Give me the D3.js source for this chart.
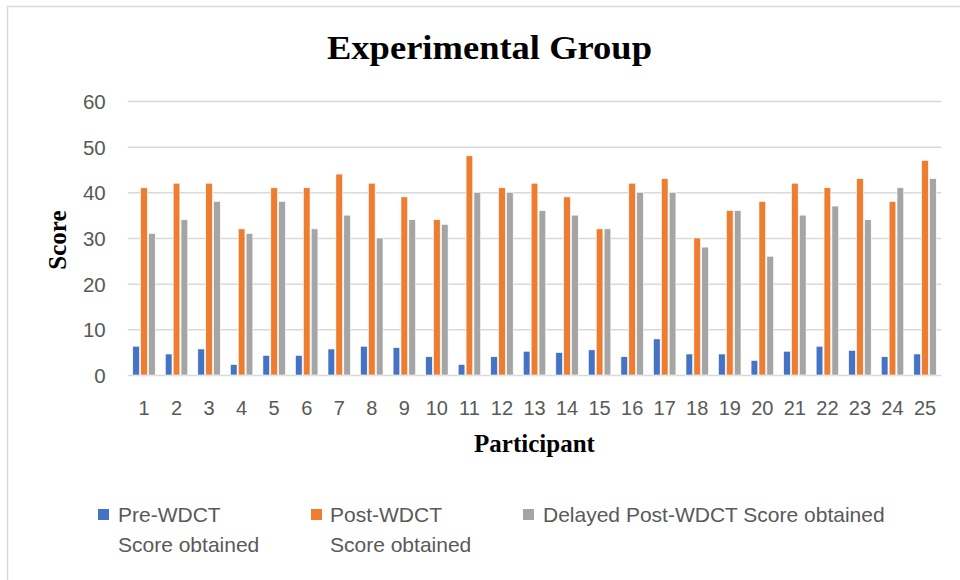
<!DOCTYPE html>
<html>
<head>
<meta charset="utf-8">
<script src="https://cdn.jsdelivr.net/npm/d3@7"></script>
<style>
  html, body { margin: 0; padding: 0; background: #fff; }
  svg { display: block; }
</style>
</head>
<body>
<svg id="chart" width="960" height="580"></svg>
<script>
const categories = ["1","2","3","4","5","6","7","8","9","10","11","12","13","14","15","16","17","18","19","20","21","22","23","24","25"];
const seriesNames = ["Pre-WDCT Score obtained", "Post-WDCT Score obtained", "Delayed Post-WDCT Score obtained"];
const preScores = [6.3, 4.6, 5.7, 2.3, 4.3, 4.3, 5.7, 6.3, 6.0, 4.0, 2.3, 4.0, 5.2, 4.9, 5.5, 4.0, 7.9, 4.6, 4.6, 3.2, 5.2, 6.3, 5.4, 4.0, 4.6];
const postScores = [41, 42, 42, 32, 41, 41, 44, 42, 39, 34, 48, 41, 42, 39, 32, 42, 43, 30, 36, 38, 42, 41, 43, 38, 47];
const delayedScores = [31, 34, 38, 31, 38, 32, 35, 30, 34, 33, 40, 40, 36, 35, 32, 40, 40, 28, 36, 26, 35, 37, 34, 41, 43];
const yTicks = [0, 10, 20, 30, 40, 50, 60];
const colors = ["#4472C4", "#ED7D31", "#A5A5A5"];

const allSeries = [preScores, postScores, delayedScores];
const svg = d3.select("#chart");

// chart border
svg.append("rect").attr("x", 7.5).attr("y", 6.5).attr("width", 1000).attr("height", 1000)
  .attr("fill", "none").attr("stroke", "#d9d9d9").attr("stroke-width", 1.5);

const plotLeft = 127.7, plotRight = 941.3, plotTop = 101, plotBottom = 375;

const y = d3.scaleLinear().domain([0, 60]).range([plotBottom, plotTop]);
const x0 = d3.scaleBand().domain(categories).range([plotLeft, plotRight]).paddingInner(0.31).paddingOuter(0.155);
const x1 = d3.scaleBand().domain(d3.range(3)).range([0, x0.bandwidth()]).paddingInner(0.15);

// gridlines
const yAxis = d3.axisLeft(y).tickValues(yTicks).tickSize(-(plotRight - plotLeft)).tickPadding(22);
const gy = svg.append("g").attr("transform", `translate(${plotLeft},0)`).call(yAxis);
gy.select(".domain").remove();
gy.selectAll(".tick line").attr("stroke", "#d9d9d9").attr("stroke-width", 1.5);
gy.selectAll(".tick text").attr("fill", "#595959").attr("font-family", "Liberation Sans, Arial, sans-serif")
  .attr("font-size", 20.5).attr("dy", "0.36em");

// bars
const groups = svg.append("g").selectAll("g").data(categories).join("g")
  .attr("transform", d => `translate(${x0(d)},0)`);
groups.selectAll("rect").data((d, i) => allSeries.map((s, k) => ({k, v: s[i]}))).join("rect")
  .attr("x", d => x1(d.k))
  .attr("width", x1.bandwidth())
  .attr("y", d => y(d.v))
  .attr("height", d => y(0) - y(d.v))
  .attr("fill", d => colors[d.k])
  .attr("stroke", "#fff").attr("stroke-width", 0.6);

// x axis labels
const xAxis = d3.axisBottom(x0).tickSize(0).tickPadding(0);
const gx = svg.append("g").attr("transform", `translate(0,${plotBottom})`).call(xAxis);
gx.select(".domain").remove();
gx.selectAll(".tick text").attr("fill", "#595959").attr("font-family", "Liberation Sans, Arial, sans-serif")
  .attr("font-size", 20).attr("y", 40).attr("dy", 0);

// titles
svg.append("text").attr("x", 489.5).attr("y", 59).attr("text-anchor", "middle")
  .attr("font-family", "Liberation Serif, Times New Roman, serif").attr("font-weight", "bold")
  .attr("font-size", 33).attr("textLength", 325).attr("lengthAdjust", "spacingAndGlyphs")
  .text("Experimental Group");
svg.append("text").attr("x", 534.5).attr("y", 452).attr("text-anchor", "middle")
  .attr("font-family", "Liberation Serif, Times New Roman, serif").attr("font-weight", "bold")
  .attr("font-size", 25).text("Participant");
svg.append("text").attr("transform", "translate(66,240) rotate(-90)").attr("text-anchor", "middle")
  .attr("font-family", "Liberation Serif, Times New Roman, serif").attr("font-weight", "bold")
  .attr("font-size", 25).text("Score");

// legend
const legendItems = [
  {sq: 98, tx: 118, lines: ["Pre-WDCT", "Score obtained"]},
  {sq: 311, tx: 330, lines: ["Post-WDCT", "Score obtained"]},
  {sq: 523, tx: 543, lines: ["Delayed Post-WDCT Score obtained"]}
];
const lg = svg.append("g").selectAll("g").data(legendItems).join("g");
lg.append("rect").attr("x", d => d.sq).attr("y", 509).attr("width", 11).attr("height", 11)
  .attr("fill", (d, i) => colors[i]);
lg.each(function(d) {
  const t = d3.select(this).append("text").attr("font-family", "Liberation Sans, Arial, sans-serif")
    .attr("font-size", 21).attr("fill", "#595959");
  d.lines.forEach((ln, j) => t.append("tspan").attr("x", d.tx).attr("y", 522 + j * 30).text(ln));
});
</script>
</body>
</html>
